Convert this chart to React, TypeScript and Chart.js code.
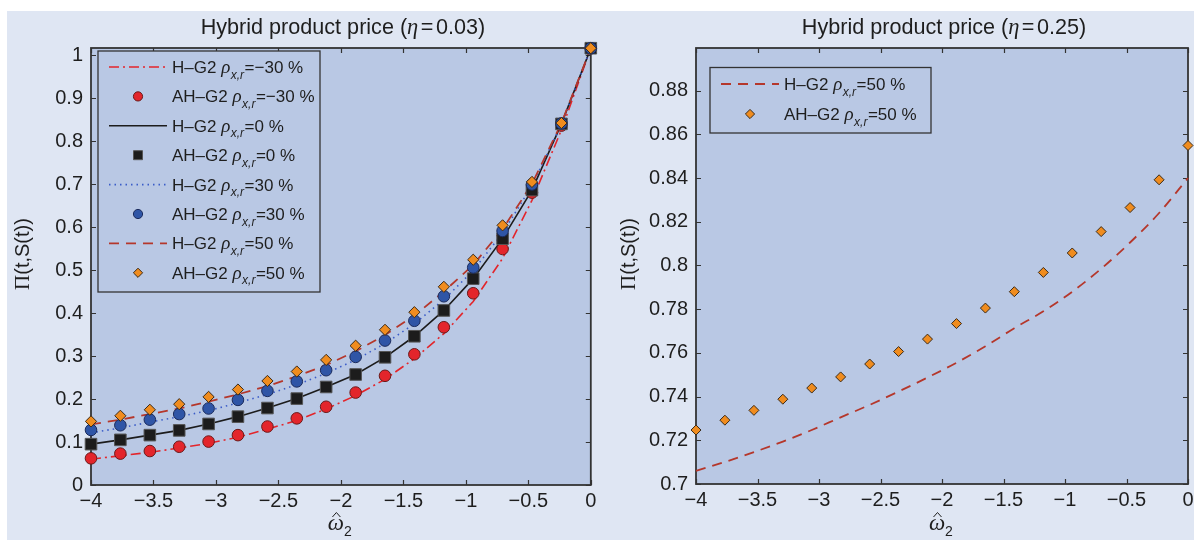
import React, { useEffect, useRef } from "react";
import { Chart, registerables } from "chart.js";

Chart.register(...registerables);

// ---------- data ----------
const omegaHat = [-4, -3.765, -3.529, -3.294, -3.059, -2.824, -2.588, -2.353, -2.118, -1.882, -1.647, -1.412, -1.176, -0.941, -0.706, -0.471, -0.235, 0];

// eta = 0.03
const hg2Neg30 = [0.060, 0.068, 0.076, 0.086, 0.097, 0.111, 0.130, 0.150, 0.177, 0.208, 0.246, 0.294, 0.352, 0.427, 0.527, 0.662, 0.826, 1.016];
const ahg2Neg30 = [0.062, 0.073, 0.079, 0.089, 0.101, 0.116, 0.136, 0.155, 0.182, 0.215, 0.254, 0.304, 0.367, 0.446, 0.549, 0.680, 0.836, 1.016];
const hg2Zero = [0.095, 0.105, 0.116, 0.127, 0.142, 0.159, 0.179, 0.201, 0.228, 0.257, 0.297, 0.346, 0.406, 0.480, 0.573, 0.686, 0.840, 1.016];
const ahg2Zero = [0.095, 0.105, 0.116, 0.127, 0.142, 0.159, 0.179, 0.201, 0.228, 0.257, 0.297, 0.346, 0.406, 0.480, 0.573, 0.686, 0.840, 1.016];
const hg2Pos30 = [0.121, 0.133, 0.146, 0.159, 0.173, 0.191, 0.211, 0.233, 0.260, 0.291, 0.329, 0.375, 0.431, 0.499, 0.586, 0.696, 0.839, 1.016];
const ahg2Pos30 = [0.128, 0.139, 0.152, 0.165, 0.178, 0.198, 0.219, 0.241, 0.267, 0.298, 0.336, 0.382, 0.439, 0.506, 0.591, 0.699, 0.841, 1.016];
const hg2Pos50 = [0.141, 0.152, 0.165, 0.178, 0.194, 0.211, 0.230, 0.253, 0.279, 0.311, 0.349, 0.394, 0.450, 0.512, 0.595, 0.700, 0.842, 1.016];
const ahg2Pos50 = [0.148, 0.161, 0.175, 0.188, 0.205, 0.222, 0.242, 0.264, 0.291, 0.324, 0.361, 0.402, 0.461, 0.524, 0.604, 0.705, 0.842, 1.016];

// eta = 0.25
const hg2Pos50Eta25 = [0.7060, 0.7101, 0.7146, 0.7194, 0.7247, 0.7305, 0.7362, 0.7423, 0.7487, 0.7555, 0.7630, 0.7713, 0.7790, 0.7880, 0.7985, 0.8105, 0.8240, 0.8400];
const ahg2Pos50Eta25 = [0.7247, 0.7292, 0.7337, 0.7388, 0.7439, 0.7490, 0.7549, 0.7606, 0.7663, 0.7734, 0.7805, 0.7880, 0.7968, 0.8057, 0.8155, 0.8265, 0.8392, 0.8549];

const xTickValues = [-4, -3.5, -3, -2.5, -2, -1.5, -1, -0.5, 0];
const leftYTickValues = [0, 0.1, 0.2, 0.3, 0.4, 0.5, 0.6, 0.7, 0.8, 0.9, 1];
const rightYTickValues = [0.7, 0.72, 0.74, 0.76, 0.78, 0.8, 0.82, 0.84, 0.86, 0.88];

const leftEta = "0.03";
const rightEta = "0.25";

// ---------- styles ----------
const SANS = '"Liberation Sans", Arial, Helvetica, sans-serif';
const SERIF = '"Liberation Serif", "DejaVu Serif", "Times New Roman", serif';
const PANEL = "#dfe6f3";
const PLOT = "#b9c8e4";
const TEXT = "#1e1e1e";
const AXIS = "#333333";

const RED = "#e3252b";
const BLACK = "#1c1c1c";
const BLUE = "#2f55a6";
const BLUE_LINE = "#3a5cc8";
const ORANGE = "#f08c1e";
const BRICK = "#b5372b";

type Part = { t: string; f: string; dy?: number; gap?: number };

function drawRich(ctx: CanvasRenderingContext2D, x: number, y: number, parts: Part[], align: "left" | "center" = "left") {
  let total = 0;
  const widths: number[] = [];
  parts.forEach((p) => {
    ctx.font = p.f;
    const w = ctx.measureText(p.t).width;
    widths.push(w);
    total += w + (p.gap || 0);
  });
  let cx = align === "center" ? x - total / 2 : x;
  ctx.textAlign = "left";
  ctx.textBaseline = "alphabetic";
  parts.forEach((p, i) => {
    ctx.font = p.f;
    ctx.fillText(p.t, cx, y + (p.dy || 0));
    cx += widths[i] + (p.gap || 0);
  });
}

function drawMarker(ctx: CanvasRenderingContext2D, style: string, x: number, y: number, r: number, fill: string, edge: string) {
  ctx.beginPath();
  if (style === "circle") {
    ctx.arc(x, y, r, 0, Math.PI * 2);
  } else if (style === "rect") {
    ctx.rect(x - r, y - r, 2 * r, 2 * r);
  } else {
    ctx.moveTo(x, y - r);
    ctx.lineTo(x + r, y);
    ctx.lineTo(x, y + r);
    ctx.lineTo(x - r, y);
    ctx.closePath();
  }
  ctx.fillStyle = fill;
  ctx.fill();
  ctx.lineWidth = 1;
  ctx.strokeStyle = edge;
  ctx.stroke();
}

const fmt = (v: number) => {
  const s = String(Number(v.toFixed(3)));
  return s.replace("-", "\u2212");
};

const decor = {
  id: "decor",
  beforeDraw(chart: any) {
    const { ctx, chartArea: a } = chart;
    ctx.save();
    ctx.fillStyle = PLOT;
    ctx.fillRect(a.left, a.top, a.right - a.left, a.bottom - a.top);
    ctx.restore();
  },
  beforeDatasetsDraw(chart: any) {
    const { ctx, chartArea: a } = chart;
    const xs = chart.scales.x;
    const ys = chart.scales.y;
    ctx.save();
    ctx.strokeStyle = AXIS;
    ctx.lineWidth = 1.2;
    ctx.beginPath();
    xs.ticks.forEach((t: any) => {
      const p = Math.round(xs.getPixelForValue(t.value)) + 0.5;
      ctx.moveTo(p, a.bottom);
      ctx.lineTo(p, a.bottom - 5);
      ctx.moveTo(p, a.top);
      ctx.lineTo(p, a.top + 5);
    });
    ys.ticks.forEach((t: any) => {
      const p = Math.round(ys.getPixelForValue(t.value)) + 0.5;
      ctx.moveTo(a.left, p);
      ctx.lineTo(a.left + 5, p);
      ctx.moveTo(a.right, p);
      ctx.lineTo(a.right - 5, p);
    });
    ctx.stroke();
    ctx.lineWidth = 1.8;
    ctx.strokeRect(a.left, a.top, a.right - a.left, a.bottom - a.top);
    ctx.restore();
  },
  afterDraw(chart: any, _args: any, opts: any) {
    const { ctx, chartArea: a } = chart;
    const cx = (a.left + a.right) / 2;
    ctx.save();
    ctx.fillStyle = TEXT;
    // title
    drawRich(ctx, cx + 2, 34, [
      { t: "Hybrid product price (", f: `21.6px ${SANS}` },
      { t: "\u03b7", f: `italic 22.5px ${SERIF}`, gap: 2.5 },
      { t: "=", f: `21.6px ${SANS}`, gap: 2.5 },
      { t: opts.eta + ")", f: `21.6px ${SANS}` },
    ], "center");
    // x label
    ctx.font = `italic 23px ${SERIF}`;
    const ww = ctx.measureText("\u03c9").width;
    const wx = cx - 5;
    drawRich(ctx, wx - ww / 2, 530, [
      { t: "\u03c9", f: `italic 23px ${SERIF}` },
      { t: "2", f: `14px ${SANS}`, dy: 6 },
    ]);
    ctx.strokeStyle = TEXT;
    ctx.lineWidth = 1;
    ctx.beginPath();
    ctx.moveTo(wx - 3.5, 517);
    ctx.lineTo(wx + 0.5, 512.5);
    ctx.lineTo(wx + 4.5, 517);
    ctx.stroke();
    // y label
    ctx.save();
    ctx.translate(opts.ylabelX, 254);
    ctx.rotate(-Math.PI / 2);
    drawRich(ctx, 0, 0, [
      { t: "\u03a0", f: `21px ${SERIF}` },
      { t: "(t,S(t))", f: `20px ${SANS}` },
    ], "center");
    ctx.restore();
    // legend
    const L = opts.legend;
    ctx.fillStyle = PLOT;
    ctx.fillRect(L.x, L.y, L.w, L.h);
    ctx.strokeStyle = AXIS;
    ctx.lineWidth = 1.3;
    ctx.strokeRect(L.x, L.y, L.w, L.h);
    chart.data.datasets.forEach((ds: any, i: number) => {
      const ry = L.y + L.first + i * L.rowH;
      if (ds.showLine) {
        ctx.save();
        ctx.strokeStyle = ds.borderColor;
        ctx.lineWidth = ds.borderWidth;
        ctx.setLineDash(ds.borderDash || []);
        ctx.beginPath();
        ctx.moveTo(L.x + 11, ry);
        ctx.lineTo(L.x + 69, ry);
        ctx.stroke();
        ctx.restore();
      } else {
        drawMarker(ctx, ds.pointStyle, L.x + 40, ry, ds.legendRadius, ds.pointBackgroundColor, ds.pointBorderColor);
      }
      const [pre, post] = String(ds.label).split("\u03c1x,r");
      ctx.fillStyle = TEXT;
      drawRich(ctx, L.x + 74, ry + 6, [
        { t: pre, f: `17px ${SANS}` },
        { t: "\u03c1", f: `italic 19px ${SERIF}`, gap: 0.5 },
        { t: "x,r", f: `italic 12px ${SANS}`, dy: 5.5, gap: 0.5 },
        { t: post, f: `17px ${SANS}` },
      ]);
    });
    ctx.restore();
  },
};

const pts = (ys: number[]) => omegaHat.map((x, i) => ({ x, y: ys[i] }));

function lineSet(label: string, ys: number[], color: string, dash: number[], width: number, order: number, smooth = false) {
  return {
    label,
    data: pts(ys),
    showLine: true,
    borderColor: color,
    backgroundColor: color,
    borderWidth: width,
    borderDash: dash,
    pointRadius: 0,
    pointHoverRadius: 0,
    tension: 0,
    cubicInterpolationMode: smooth ? "monotone" : "default",
    order,
    clip: false,
  };
}

function markSet(label: string, ys: number[], style: string, fill: string, edge: string, r: number, legendRadius: number, order: number) {
  return {
    label,
    data: pts(ys),
    showLine: false,
    pointStyle: style,
    pointRadius: r,
    pointHoverRadius: r,
    pointBackgroundColor: fill,
    pointBorderColor: edge,
    pointBorderWidth: 1,
    backgroundColor: fill,
    borderColor: edge,
    legendRadius,
    order,
    clip: false,
  };
}

function makeScales(yTicks: number[], yMax: number, yMin: number, yWidth: number, xHeight: number) {
  const tickFont = { family: SANS, size: 20 };
  return {
    x: {
      type: "linear",
      min: -4,
      max: 0,
      grid: { display: false, drawTicks: false },
      border: { display: false },
      afterBuildTicks: (s: any) => {
        s.ticks = xTickValues.map((v) => ({ value: v }));
      },
      afterFit: (s: any) => {
        s.height = xHeight;
        s.paddingLeft = 0;
        s.paddingRight = 0;
      },
      ticks: { font: tickFont, color: TEXT, padding: 4, maxRotation: 0, autoSkip: false, callback: (v: number) => fmt(v) },
    },
    y: {
      type: "linear",
      min: yMin,
      max: yMax,
      grid: { display: false, drawTicks: false },
      border: { display: false },
      afterBuildTicks: (s: any) => {
        s.ticks = yTicks.map((v) => ({ value: v }));
      },
      afterFit: (s: any) => {
        s.width = yWidth;
        s.paddingTop = 0;
        s.paddingBottom = 0;
      },
      ticks: { font: tickFont, color: TEXT, padding: 8, autoSkip: false, callback: (v: number) => fmt(v) },
    },
  };
}

function leftConfig(): any {
  return {
    type: "scatter",
    data: {
      datasets: [
        lineSet("H\u2013G2 \u03c1x,r=\u221230 %", hg2Neg30, RED, [10, 4, 2, 4], 1.6, 13),
        markSet("AH\u2013G2 \u03c1x,r=\u221230 %", ahg2Neg30, "circle", RED, "#6a1a1a", 5.8, 4.6, 4),
        lineSet("H\u2013G2 \u03c1x,r=0 %", hg2Zero, BLACK, [], 1.6, 12),
        markSet("AH\u2013G2 \u03c1x,r=0 %", ahg2Zero, "rect", BLACK, "#555555", 8.2, 4.5, 3),
        lineSet("H\u2013G2 \u03c1x,r=30 %", hg2Pos30, BLUE_LINE, [1.5, 4], 1.6, 11),
        markSet("AH\u2013G2 \u03c1x,r=30 %", ahg2Pos30, "circle", BLUE, "#1b2b5c", 5.8, 4.6, 2),
        lineSet("H\u2013G2 \u03c1x,r=50 %", hg2Pos50, BRICK, [10, 7], 1.8, 10),
        markSet("AH\u2013G2 \u03c1x,r=50 %", ahg2Pos50, "rectRot", ORANGE, "#3a2a18", 5.6, 4.6, 1),
      ],
    },
    options: {
      responsive: false,
      animation: false,
      events: [],
      layout: { padding: { top: 48, right: 8, left: 0, bottom: 0 } },
      plugins: {
        legend: { display: false },
        tooltip: { enabled: false },
        title: { display: false },
        decor: {
          eta: leftEta,
          ylabelX: 28.5,
          legend: { x: 98, y: 51, w: 222, h: 241, first: 16, rowH: 29.4 },
        },
      },
      scales: makeScales(leftYTickValues, 1.0165, 0, 91, 55),
    },
    plugins: [decor],
  };
}

function rightConfig(): any {
  return {
    type: "scatter",
    data: {
      datasets: [
        lineSet("H\u2013G2 \u03c1x,r=50 %", hg2Pos50Eta25, BRICK, [10, 7], 1.8, 10, true),
        markSet("AH\u2013G2 \u03c1x,r=50 %", ahg2Pos50Eta25, "rectRot", ORANGE, "#3a2a18", 5, 4.6, 1),
      ],
    },
    options: {
      responsive: false,
      animation: false,
      events: [],
      layout: { padding: { top: 48, right: 2, left: 0, bottom: 0 } },
      plugins: {
        legend: { display: false },
        tooltip: { enabled: false },
        title: { display: false },
        decor: {
          eta: rightEta,
          ylabelX: 35,
          legend: { x: 110, y: 67.5, w: 221, h: 65.5, first: 16.5, rowH: 30 },
        },
      },
      scales: makeScales(rightYTickValues, 0.8995, 0.7, 96, 56),
    },
    plugins: [decor],
  };
}

export default function App() {
  const leftRef = useRef<HTMLCanvasElement>(null);
  const rightRef = useRef<HTMLCanvasElement>(null);
  useEffect(() => {
    const c1 = new Chart(leftRef.current as HTMLCanvasElement, leftConfig());
    const c2 = new Chart(rightRef.current as HTMLCanvasElement, rightConfig());
    return () => {
      c1.destroy();
      c2.destroy();
    };
  }, []);
  return (
    <div style={{ position: "absolute", left: 0, top: 0, width: 1194, height: 540, background: "#ffffff", overflow: "hidden" }}>
      <div style={{ position: "absolute", left: 7, top: 11, width: 1187, height: 529, background: PANEL }} />
      <div style={{ position: "absolute", left: 0, top: 0, width: 600, height: 540 }}>
        <canvas ref={leftRef} width={600} height={540} style={{ display: "block" }} />
      </div>
      <div style={{ position: "absolute", left: 600, top: 0, width: 594, height: 540 }}>
        <canvas ref={rightRef} width={594} height={540} style={{ display: "block" }} />
      </div>
    </div>
  );
}
